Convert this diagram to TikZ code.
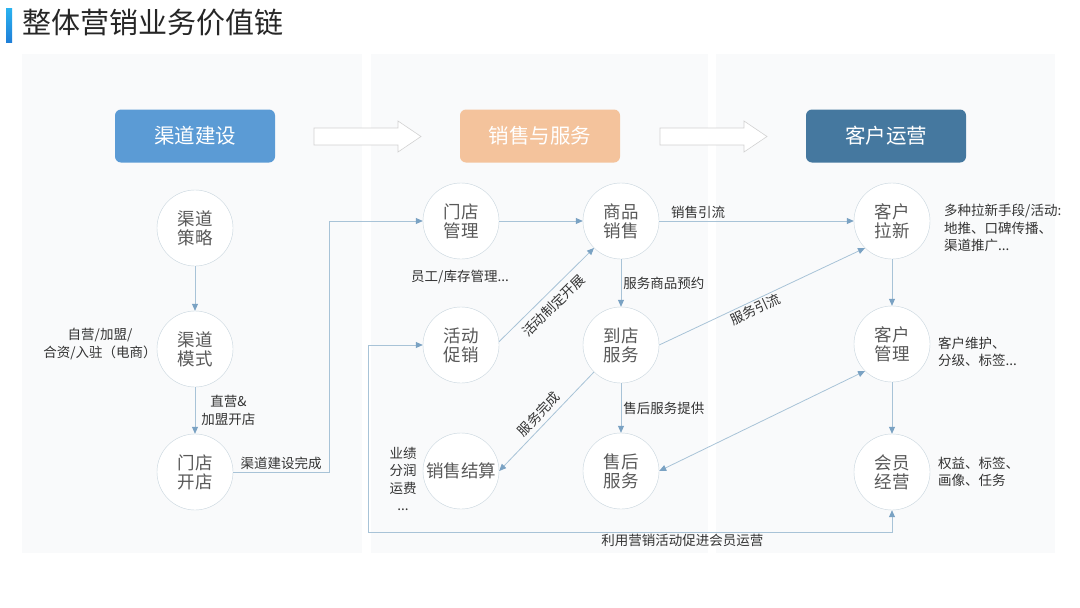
\documentclass[tikz,border=0pt]{standalone}
\usepackage{fontspec}
\setmainfont{Noto Sans CJK SC}
\usetikzlibrary{arrows.meta, positioning}

\definecolor{panelgray}{HTML}{F9FAFB}
\definecolor{hdrblue}{HTML}{5B9BD5}
\definecolor{hdrpeach}{HTML}{F4C39C}
\definecolor{hdrsteel}{HTML}{45789F}
\definecolor{ringgray}{HTML}{C8D5DE}
\definecolor{lineblue}{HTML}{A8C3D7}
\definecolor{tipblue}{HTML}{7AA2C3}
\definecolor{cellgray}{HTML}{595959}
\definecolor{labelgray}{HTML}{333333}
\definecolor{titlegray}{HTML}{262626}
\definecolor{titlecyan}{HTML}{2AB3F0}
\definecolor{titleblue}{HTML}{1F7FD8}

\begin{document}
\begin{tikzpicture}[x=1pt, y=-1pt,
    cell/.style={circle, draw=ringgray, fill=white, minimum size=76pt, inner sep=0pt, align=center, text=cellgray, font=\fontsize{17.5}{19}\selectfont},
    hdr/.style={rounded corners=6pt, minimum width=160pt, minimum height=53pt, text=white, font=\fontsize{20.5}{24}\selectfont},
    flow/.style={draw=lineblue, line width=0.8pt, >={Triangle[length=7pt, width=6pt, color=tipblue]}},
    note/.style={text=labelgray, font=\fontsize{13.5}{17.5}\selectfont, inner sep=2pt},
    panel/.style={fill=panelgray, draw=none},
    hollow/.style={fill=white, draw=gray!35, line width=0.6pt}
]
\useasboundingbox (0,0) rectangle (1080,608);

% Background panels
\fill[panel] (22,54) rectangle (362,553);
\fill[panel] (371,54) rectangle (708,553);
\fill[panel] (716,54) rectangle (1055,553);

% Title
\shade[top color=titlecyan, bottom color=titleblue] (6,8) rectangle (12,42);
\node[anchor=west, text=titlegray, font=\fontsize{29}{32}\selectfont, inner sep=0pt] (title) at (22,23) {整体营销业务价值链};

% Header row
\node[hdr, fill=hdrblue] (qdjs) at (195,136) {渠道建设};
\node[hdr, fill=hdrpeach] (xsfw) at (540,136) {销售与服务};
\node[hdr, fill=hdrsteel] (khyy) at (886,136) {客户运营};

\draw[hollow] (314,128) -- (398,128) -- (398,121) -- (421,136.5) -- (398,152) -- (398,145) -- (314,145) -- cycle;
\draw[hollow] (660,128) -- (744,128) -- (744,121) -- (767,136.5) -- (744,152) -- (744,145) -- (660,145) -- cycle;

% Left: channel building
\node[cell] (qdcl) at (195,228) {渠道\\策略};
\node[cell] (qdms) at (195,349) {渠道\\模式};
\node[cell] (mdkd) at (195,472) {门店\\开店};

% Middle: sales and service
\node[cell] (mdgl) at (461,221) {门店\\管理};
\node[cell] (spxs) at (621,221) {商品\\销售};
\node[cell] (hdcx) at (461,345) {活动\\促销};
\node[cell] (ddfw) at (621,345) {到店\\服务};
\node[cell] (xsjs) at (461,471) {销售结算};
\node[cell] (shfw) at (621,471) {售后\\服务};

% Right: customer operation
\node[cell] (khlx) at (892,221) {客户\\拉新};
\node[cell] (khgl) at (892,344) {客户\\管理};
\node[cell] (hyjy) at (892,472) {会员\\经营};

% Side notes
\node[note, align=center] (msnote) at (100,344) {自营/加盟/\\合资/入驻（电商）};
\node[note] (kcnote) at (460,277) {员工/库存管理...};
\node[note, align=center] (yjnote) at (403,479) {业绩\\分润\\运费\\...};
\node[note, anchor=west, align=left] (lxnote) at (942,228) {多种拉新手段/活动:\\地推、口碑传播、\\渠道推广...};
\node[note, anchor=west, align=left] (glnote) at (936,352) {客户维护、\\分级、标签...};
\node[note, anchor=west, align=left] (hynote) at (936,472) {权益、标签、\\画像、任务};

\coordinate (c1) at (329,472);
\coordinate (c2) at (368,532);

% Connectors
\draw[flow, ->] (qdcl) -- (qdms);
\draw[flow, ->] (qdms) -- node[note, right, align=center, xshift=4pt] {直营\&\\加盟开店} (mdkd);
\draw[flow, ->] (mdkd.east) -- node[note, above] {渠道建设完成} (c1) |- (mdgl.west);

\draw[flow, ->] (mdgl) -- (spxs);
\draw[flow, ->] (spxs) -- node[note, above, pos=0.2] {销售引流} (khlx);
\draw[flow, ->] (spxs) -- node[note, right] {服务商品预约} (ddfw);
\draw[flow, ->] (ddfw) -- node[note, right] {售后服务提供} (shfw);
\draw[flow, ->] (hdcx.5) -- node[note, sloped, below=4pt, pos=0.48] {活动制定开展} (spxs.225);
\draw[flow, <-] (xsjs.east) -- node[note, sloped, above=2pt] {服务完成} (ddfw.225);
\draw[flow, ->] (ddfw.east) -- node[note, sloped, below, pos=0.45] {服务引流} (khlx.225);
\draw[flow, <->] (shfw.east) -- (khgl.225);

\draw[flow, ->] (khlx) -- (khgl);
\draw[flow, ->] (khgl) -- (hyjy);
\draw[flow, <->] (hdcx.west) -| (c2) -| node[note, below, pos=0.3] {利用营销活动促进会员运营} (hyjy.south);

\end{tikzpicture}
\end{document}
